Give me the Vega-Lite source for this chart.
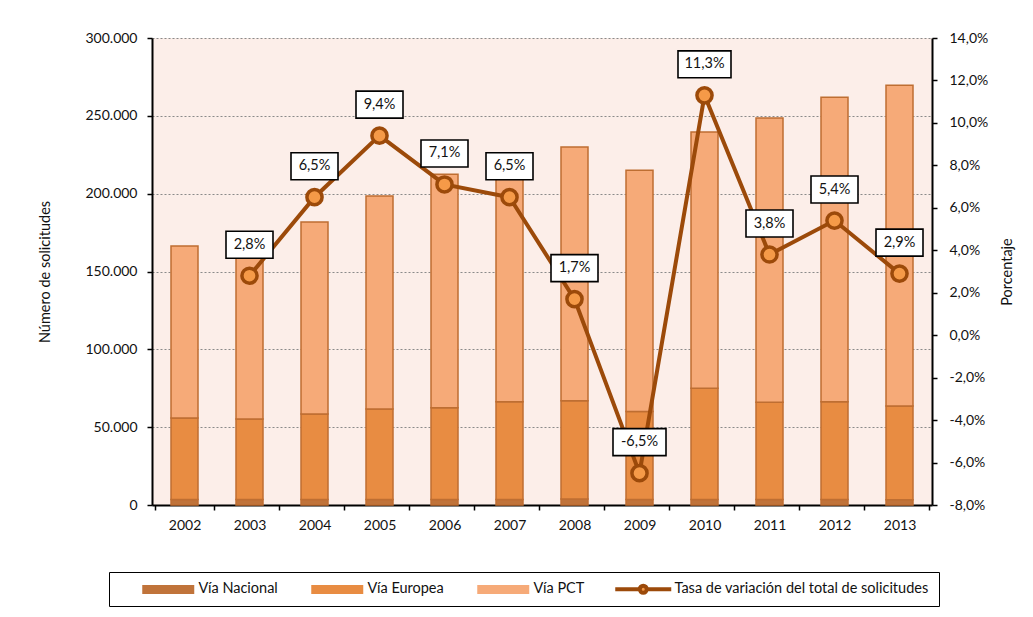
{
  "$schema": "https://vega.github.io/schema/vega-lite/v6.json",
  "width": 780,
  "height": 467,
  "autosize": {"type": "none"},
  "padding": {"left": 152, "top": 38, "right": 101, "bottom": 112},
  "background": "white",
  "config": {
    "locale": {"number": {"decimal": ",", "thousands": ".", "grouping": [3], "currency": ["", " €"], "minus": "-"}},
    "view": {"stroke": null, "fill": "#FCEEE9"},
    "font": "Lato",
    "axis": {
      "labelFont": "Lato", "labelFontSize": 14, "labelColor": "#111",
      "titleFont": "Lato", "titleFontSize": 14.5, "titleFontWeight": "normal", "titleColor": "#111",
      "domainColor": "black", "domainWidth": 2, "tickColor": "black", "tickWidth": 1.5, "tickSize": 5
    }
  },
  "data": {"values": [
    {"year": "2002", "Vía Nacional": 3500, "Vía Europea": 52400, "Vía PCT": 110500, "tasa": null},
    {"year": "2003", "Vía Nacional": 3500, "Vía Europea": 51800, "Vía PCT": 115700, "tasa": 0.028},
    {"year": "2004", "Vía Nacional": 3500, "Vía Europea": 55000, "Vía PCT": 123300, "tasa": 0.065},
    {"year": "2005", "Vía Nacional": 3500, "Vía Europea": 58200, "Vía PCT": 136800, "tasa": 0.094},
    {"year": "2006", "Vía Nacional": 3500, "Vía Europea": 59000, "Vía PCT": 150000, "tasa": 0.071},
    {"year": "2007", "Vía Nacional": 3500, "Vía Europea": 62900, "Vía PCT": 159600, "tasa": 0.065},
    {"year": "2008", "Vía Nacional": 3800, "Vía Europea": 63200, "Vía PCT": 163000, "tasa": 0.017},
    {"year": "2009", "Vía Nacional": 3500, "Vía Europea": 56500, "Vía PCT": 155000, "tasa": -0.065},
    {"year": "2010", "Vía Nacional": 3600, "Vía Europea": 71400, "Vía PCT": 164600, "tasa": 0.113},
    {"year": "2011", "Vía Nacional": 3500, "Vía Europea": 62500, "Vía PCT": 182600, "tasa": 0.038},
    {"year": "2012", "Vía Nacional": 3500, "Vía Europea": 62900, "Vía PCT": 195600, "tasa": 0.054},
    {"year": "2013", "Vía Nacional": 3400, "Vía Europea": 60200, "Vía PCT": 206000, "tasa": 0.029}
  ]},
  "layer": [
    {
      "transform": [
        {"fold": ["Vía Nacional", "Vía Europea", "Vía PCT"], "as": ["serie", "valor"]},
        {"calculate": "indexof(['Vía Nacional','Vía Europea','Vía PCT'], datum.serie)", "as": "orden"}
      ],
      "mark": {"type": "bar", "size": 27, "stroke": "#BE6E32", "strokeWidth": 1.5, "opacity": 1},
      "encoding": {
        "x": {"field": "year", "type": "ordinal", "sort": "ascending",
          "axis": {"title": null, "labelAngle": 0, "tickBand": "extent", "labelPadding": 8}},
        "y": {"field": "valor", "type": "quantitative", "stack": "zero",
          "scale": {"domain": [0, 300000], "nice": false},
          "axis": {"title": "Número de solicitudes", "values": [0, 50000, 100000, 150000, 200000, 250000, 300000],
            "format": ",d", "labelPadding": 10, "titlePadding": 32,
            "grid": true, "gridColor": "#8a8a8a", "gridDash": [2, 2], "gridWidth": 1.2}},
        "color": {"field": "serie", "type": "nominal",
          "scale": {"domain": ["Vía Nacional", "Vía Europea", "Vía PCT", "Tasa de variación del total de solicitudes"],
                    "range": ["#C0733A", "#E88C42", "#F6AA78", "rgba(0,0,0,0)"]},
          "legend": {
            "orient": "none", "legendX": -43, "legendY": 534, "direction": "horizontal", "columns": 4,
            "title": null, "symbolSize": 100, "symbolType": "M-5.2,-0.9L5.2,-0.9L5.2,0.9L-5.2,0.9Z",
            "symbolStrokeWidth": 0, "symbolOpacity": 1,
            "symbolOffset": 42, "labelOffset": 23,
            "labelFontSize": 14.5, "labelFont": "Lato", "labelColor": "#111", "labelLimit": 400,
            "columnPadding": 10, "padding": 10, "strokeColor": "black"
          }},
        "order": {"field": "orden", "type": "quantitative"}
      }
    },
    {
      "transform": [{"filter": "isValid(datum.tasa)"}],
      "encoding": {
        "x": {"field": "year", "type": "ordinal", "sort": "ascending"},
        "y": {"field": "tasa", "type": "quantitative",
          "scale": {"domain": [-0.08, 0.14], "nice": false},
          "axis": {"orient": "right", "title": "Porcentaje", "grid": false, "format": ".1%",
            "values": [-0.08, -0.06, -0.04, -0.02, 0, 0.02, 0.04, 0.06, 0.08, 0.1, 0.12, 0.14],
            "labelPadding": 12, "titlePadding": 27, "titleAngle": 270}}
      },
      "layer": [
        {"mark": {"type": "line", "strokeWidth": 4, "color": "#9C4A0A"}},
        {"mark": {"type": "point", "filled": true, "stroke": "#9C4A0A", "strokeWidth": 3.5, "size": 230, "opacity": 1},
         "encoding": {
           "fill": {"datum": "Tasa de variación del total de solicitudes",
             "scale": {"range": ["#F59A48"]},
             "legend": {
               "orient": "none", "legendX": 455, "legendY": 534, "title": null,
               "symbolSize": 100, "symbolOffset": 19, "labelOffset": 22,
               "symbolType": "M-5.6,0L-0.7,0M0.7,0L5.6,0M-0.7,0A0.7,0.7 0 1,1 0.7,0A0.7,0.7 0 1,1 -0.7,0Z",
               "symbolStrokeColor": "#9C4A0A", "symbolStrokeWidth": 4, "symbolOpacity": 1,
               "labelFontSize": 14.5, "labelFont": "Lato", "labelExpr": "''", "padding": 10
             }}
         }},
        {"mark": {"type": "point", "filled": true, "fill": "white", "stroke": "black", "strokeWidth": 1.6, "yOffset": -31, "opacity": 1},
         "encoding": {
           "shape": {"condition": {"test": "datum.tasa > 0.1 || datum.tasa < 0", "value": "M-1,-0.509L1,-0.509L1,0.509L-1,0.509Z"},
                     "value": "M-1,-0.574L1,-0.574L1,0.574L-1,0.574Z"},
           "size": {"condition": {"test": "datum.tasa > 0.1 || datum.tasa < 0", "value": 2809}, "value": 2209}
         }},
        {"mark": {"type": "text", "dy": -31, "fontSize": 14.5, "font": "Lato", "color": "#111"},
         "encoding": {"text": {"field": "tasa", "type": "quantitative", "format": ".1%"}}}
      ]
    }
  ],
  "resolve": {"scale": {"y": "independent"}}
}
